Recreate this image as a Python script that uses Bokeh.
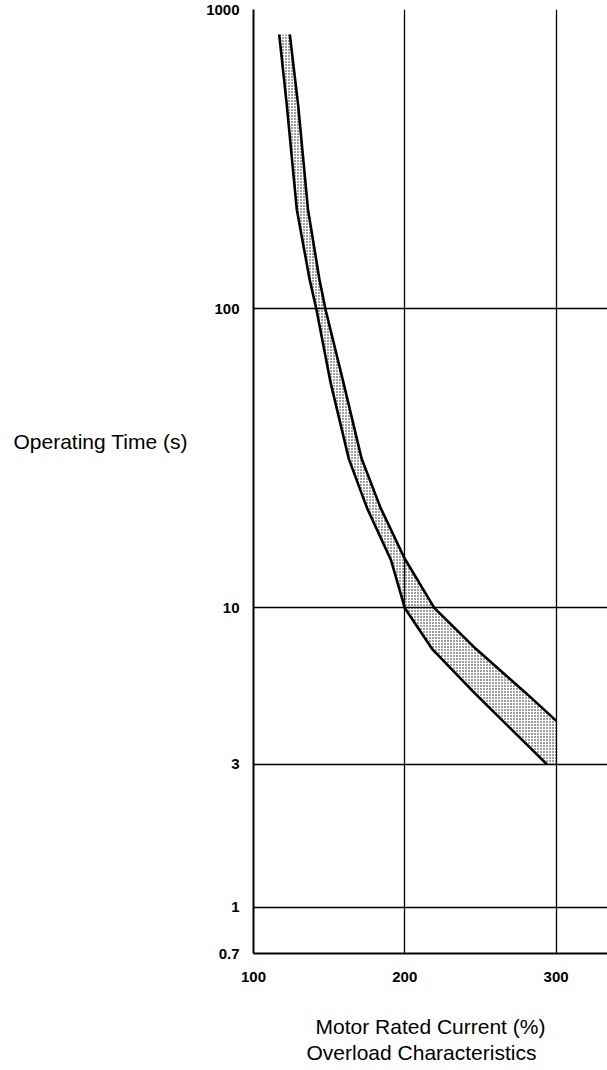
from bokeh.plotting import figure
from bokeh.layouts import row
from bokeh.models import FixedTicker, Range1d, Title
from bokeh.core.properties import value
from bokeh.embed import file_html
from bokeh.resources import INLINE

# ---- data ----
current_ticks = [100, 200, 300]
time_ticks = [0.7, 1, 3, 10, 100, 1000]
time_tick_labels = ["0.7", "1", "3", "10", "100", "1000"]

# left (lower) boundary of the operating band
lower_current = [117, 122, 128.6, 137, 141.5, 151, 163, 175, 191, 200, 218, 246, 294]
lower_time = [825, 480, 215, 126, 100, 56.5, 31.5, 21.6, 14.4, 10, 7.3, 5.2, 3.0]
# right (upper) boundary of the operating band
upper_current = [124, 129.5, 136, 143.5, 147.5, 159.5, 171.5, 184, 200, 219.5, 247, 280, 300]
upper_time = [825, 480, 215, 126, 100, 56.5, 31.5, 21.6, 14.6, 10, 7.3, 5.2, 4.2]
band_end_current = [300]
band_end_time = [3]

y_title = "Operating Time (s)"
x_title = "Motor Rated Current (%)"
caption = "Overload Characteristics"

FONT = "Liberation Sans"
H = 1070

# ---- left panel holding the horizontal y-axis title ----
left = figure(width=200, height=H, x_range=Range1d(0, 200), y_range=Range1d(953, 9),
              x_axis_location=None, y_axis_location=None,
              output_backend="svg", toolbar_location=None, min_border=0)
left.outline_line_color = None
left.grid.visible = False
left.text(x=[13], y=[441], text=[y_title], text_font=value(FONT),
          text_font_size="21px", text_color="black",
          text_align="left", text_baseline="middle")

# ---- main chart ----
p = figure(width=407, height=H,
           x_range=Range1d(100, 334), y_range=Range1d(0.7, 1000),
           y_axis_type="log", output_backend="svg", toolbar_location=None,
           min_border_left=53, min_border_right=0,
           min_border_top=9, min_border_bottom=117)
p.outline_line_color = None
p.background_fill_color = "white"

p.xaxis.ticker = FixedTicker(ticks=current_ticks)
p.yaxis.ticker = FixedTicker(ticks=time_ticks)
p.yaxis.major_label_overrides = {t: s for t, s in zip(time_ticks, time_tick_labels)}
for ax in (p.xaxis[0], p.yaxis[0]):
    ax.axis_line_color = "black"
    ax.axis_line_width = 2
    ax.major_tick_line_color = None
    ax.minor_tick_line_color = None
    ax.major_tick_out = 0
    ax.major_tick_in = 0
    ax.major_label_text_font = FONT
    ax.major_label_text_font_style = "bold"
    ax.major_label_text_font_size = "15px"
    ax.major_label_text_color = "black"
p.xaxis.major_label_standoff = 18
p.yaxis.major_label_standoff = 14

p.xaxis.axis_label = x_title
p.xaxis.axis_label_standoff = 30
p.xaxis.axis_label_text_font = FONT
p.xaxis.axis_label_text_font_size = "21px"
p.xaxis.axis_label_text_font_style = "normal"
p.xaxis.axis_label_text_color = "black"

p.xgrid.grid_line_color = "black"
p.xgrid.grid_line_width = 1.3
p.ygrid.grid_line_color = "black"
p.ygrid.grid_line_width = 1.3

band_x = lower_current + band_end_current + upper_current[::-1]
band_y = lower_time + band_end_time + upper_time[::-1]
p.patch(band_x, band_y, fill_color=None, line_color=None,
        hatch_pattern="dot", hatch_scale=3, hatch_weight=2.2, hatch_color="#111111")
p.line(lower_current, lower_time, line_color="black", line_width=2.6)
p.line(upper_current, upper_time, line_color="black", line_width=2.6)

p.add_layout(Title(text=caption, align="left", offset=53, standoff=0,
                   vertical_align="top",
                   text_font=FONT, text_font_size="21px", text_font_style="normal",
                   text_color="black"), "below")

layout = row(left, p, spacing=0)
open("out.html", "w").write(file_html(layout, INLINE))
